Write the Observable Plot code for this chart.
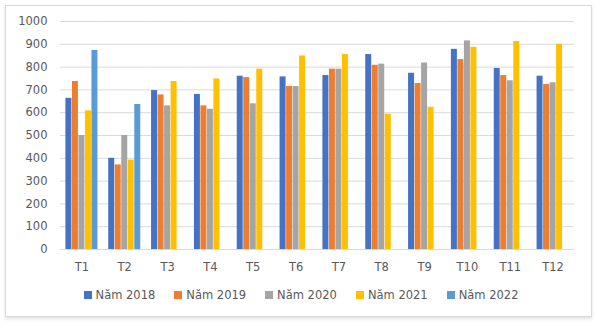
<!DOCTYPE html>
<html>
<head>
<meta charset="utf-8">
<script src="https://cdn.jsdelivr.net/npm/d3@7"></script>
<script src="https://cdn.jsdelivr.net/npm/@observablehq/plot@0.6"></script>
<style>
  html, body { margin: 0; padding: 0; background: #ffffff; }
  body { width: 599px; height: 323px; position: relative; overflow: hidden; font-family: "DejaVu Sans", sans-serif; }
  #frame { position: absolute; left: 5px; top: 5px; width: 585px; height: 310px; border: 1px solid #d9d9d9; box-shadow: 0 2px 3px rgba(0,0,0,0.12); background: #fff; }
  #legend { display: flex; justify-content: center; gap: 19px; margin-top: 12px; line-height: 14px; font-size: 11.5px; color: #595959; padding-left: 5px; }
  .item { display: flex; align-items: center; gap: 4px; }
  .sw { width: 8px; height: 8px; display: inline-block; }
</style>
</head>
<body>
<div id="frame"><div id="chart"></div><div id="legend"></div></div>
<script>
const months = ["T1","T2","T3","T4","T5","T6","T7","T8","T9","T10","T11","T12"];
const seriesNames = ["Năm 2018","Năm 2019","Năm 2020","Năm 2021","Năm 2022"];
const colors = ["#4472C4","#ED7D31","#A5A5A5","#FFC000","#5B9BD5"];
const v2018 = [663, 400, 697, 680, 760, 757, 763, 855, 773, 878, 794, 760];
const v2019 = [737, 371, 678, 630, 754, 715, 791, 808, 728, 833, 763, 724];
const v2020 = [500, 500, 630, 615, 639, 715, 791, 813, 818, 915, 740, 731];
const v2021 = [608, 392, 737, 748, 791, 849, 855, 593, 624, 887, 912, 900];
const v2022 = [873, 636, null, null, null, null, null, null, null, null, null, null];
const yTicks = [0,100,200,300,400,500,600,700,800,900,1000];

const seriesValues = [v2018, v2019, v2020, v2021, v2022];
const data = [];
seriesValues.forEach((vals, si) => {
  vals.forEach((v, mi) => {
    if (v != null) data.push({month: months[mi], series: seriesNames[si], value: v});
  });
});

const chart = Plot.plot({
  width: 585,
  height: 270,
  marginLeft: 54,
  marginRight: 17,
  marginTop: 15,
  marginBottom: 27,
  style: {fontFamily: "DejaVu Sans, sans-serif", fontSize: "11.5px", color: "#595959", background: "transparent"},
  fx: {domain: months, padding: 0, round: false, label: null, axis: "bottom", tickSize: 0, tickPadding: 13},
  x: {domain: seriesNames, paddingInner: 0.08, paddingOuter: 0.83, round: false, axis: null},
  y: {domain: [0, 1000], ticks: yTicks, tickSize: 0, tickPadding: 13, label: null, tickFormat: d => String(d)},
  color: {domain: seriesNames, range: colors},
  marks: [
    Plot.ruleY(yTicks, {stroke: "#d9d9d9", strokeWidth: 1}),
    Plot.barY(data, {fx: "month", x: "series", y: "value", fill: "series"})
  ]
});
document.getElementById("chart").appendChild(chart);

const legend = document.getElementById("legend");
seriesNames.forEach((name, i) => {
  const item = document.createElement("div");
  item.className = "item";
  const sw = document.createElement("span");
  sw.className = "sw";
  sw.style.background = colors[i];
  const label = document.createElement("span");
  label.textContent = name;
  item.appendChild(sw);
  item.appendChild(label);
  legend.appendChild(item);
});
</script>
</body>
</html>
